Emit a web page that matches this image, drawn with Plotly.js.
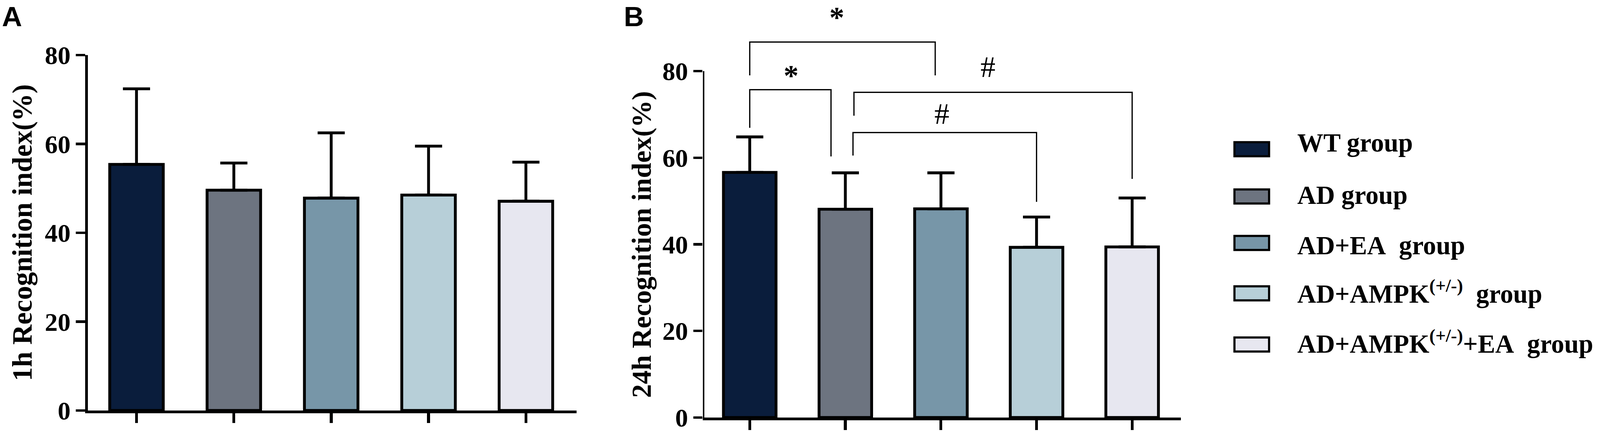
<!DOCTYPE html>
<html>
<head>
<meta charset="utf-8">
<script src="https://cdn.plot.ly/plotly-3.0.1.min.js"></script>
<style>
  html, body { margin: 0; padding: 0; background: #fff; overflow: hidden; }
</style>
</head>
<body>
<div id="chart"></div>
<script>
// groups and their legend labels
const groups = ['WT group', 'AD group', 'AD+EA group', 'AD+AMPK(+/-) group', 'AD+AMPK(+/-)+EA group'];
const groupLabels = [
    'WT group',
    'AD group',
    'AD+EA\u00a0\u00a0group',
    'AD+AMPK<sup>(+/-)</sup>\u00a0\u00a0group',
    'AD+AMPK<sup>(+/-)</sup>+EA\u00a0\u00a0group'
];
const barColors = ['#0a1d3c', '#6d7480', '#7796a8', '#b7cfd8', '#e7e7f0'];

// A: 1h recognition index, B: 24h recognition index (mean, SD)
const mean1h = [55.4, 49.6, 47.8, 48.5, 47.1];
const sd1h = [17.0, 6.1, 14.7, 11.0, 8.8];
const mean24h = [56.6, 48.1, 48.2, 39.3, 39.4];
const sd24h = [8.2, 8.4, 8.3, 7.0, 11.3];
const yTicks = [0, 20, 40, 60, 80];

// significance brackets in panel B
const sigMark = ['*', '*', '#', '#'];
const sigFrom = [0, 0, 1.09, 1.08];
const sigTo = [1.94, 0.85, 4.0, 3.0];
const sigTop = [86.7, 75.7, 75.1, 65.8];
const sigFromEnd = [79.0, 66.9, 69.7, 60.5];
const sigToEnd = [79.0, 60.3, 55.1, 49.8];
const sigMarkX = [0.91, 0.43, 2.49, 2.01];
const sigMarkY = [92.6, 79.0, 80.9, 70.1];

// reference frame is 4482 x 1106; scale to whatever the viewport really is
const RW = 4482, RH = 1106;
const W = window.innerWidth || RW;
const H = window.innerHeight || RH;
const s = W / RW;
const px = v => v / RW;
const py = v => 1 - v / RH;
const serif = 'Liberation Serif, Times New Roman, serif';
const sans = 'Liberation Sans, Arial, sans-serif';
const idx = groups.map((_, i) => i);

function barTrace(means, sds, xa, ya) {
    return {
        type: 'bar',
        x: idx,
        y: means,
        xaxis: xa,
        yaxis: ya,
        width: 0.55,
        marker: { color: barColors, line: { color: '#000', width: 8 * s } },
        error_y: {
            type: 'data', symmetric: false,
            array: sds, arrayminus: sds.map(() => 0),
            color: '#000', thickness: 8 * s, width: 38 * s
        },
        hoverinfo: 'skip',
        showlegend: false
    };
}

const xBase = {
    showgrid: false, zeroline: false, showline: true, linecolor: '#000', linewidth: 8 * s,
    ticks: 'outside', ticklen: 27 * s, tickwidth: 8 * s, tickcolor: '#000',
    tickmode: 'array', tickvals: idx, showticklabels: false, fixedrange: true
};
const yBase = {
    showgrid: false, zeroline: false, linecolor: '#000', linewidth: 8 * s,
    ticks: 'outside', ticklen: 26 * s, tickwidth: 7 * s, tickcolor: '#000',
    tickmode: 'array', tickvals: yTicks, ticklabeloverflow: 'allow',
    tickfont: { family: serif, size: 72 * s, color: '#000', weight: 'bold' },
    fixedrange: true
};

const shapes = [];
// panel B y axis line only up to 80
shapes.push({
    type: 'line', xref: 'x2', yref: 'y2', x0: -0.49, x1: -0.49, y0: 0, y1: 80,
    line: { color: '#000', width: 8 * s }
});
sigMark.forEach((m, i) => {
    shapes.push({
        type: 'path', xref: 'x2', yref: 'y2',
        path: `M ${sigFrom[i]},${sigFromEnd[i]} L ${sigFrom[i]},${sigTop[i]} L ${sigTo[i]},${sigTop[i]} L ${sigTo[i]},${sigToEnd[i]}`,
        line: { color: '#000', width: 3.5 * s }
    });
});

const annotations = [];
annotations.push({ text: 'A', xref: 'paper', yref: 'paper', x: px(3), y: 1, xanchor: 'left', yanchor: 'top',
    showarrow: false, font: { family: sans, size: 78 * s, color: '#000', weight: 'bold' } });
annotations.push({ text: 'B', xref: 'paper', yref: 'paper', x: px(1745), y: 1, xanchor: 'left', yanchor: 'top',
    showarrow: false, font: { family: sans, size: 78 * s, color: '#000', weight: 'bold' } });
annotations.push({ text: '1h Recognition index(%)', xref: 'paper', yref: 'y', x: px(62), y: 40, textangle: -90,
    xanchor: 'center', yanchor: 'middle', showarrow: false,
    font: { family: serif, size: 78 * s, color: '#000', weight: 'bold' } });
annotations.push({ text: '24h Recognition index(%)', xref: 'paper', yref: 'y2', x: px(1797), y: 40, textangle: -90,
    xanchor: 'center', yanchor: 'middle', showarrow: false,
    font: { family: serif, size: 77 * s, color: '#000', weight: 'bold' } });
sigMark.forEach((m, i) => {
    const top = i === 0;
    annotations.push({ text: m, xref: 'x2', yref: top ? 'paper' : 'y2', x: sigMarkX[i], y: top ? 1 : sigMarkY[i],
        xanchor: 'center', yanchor: top ? 'top' : 'middle', showarrow: false,
        font: { family: serif, size: 84 * s, color: '#000', weight: m === '*' ? 'bold' : 'normal' } });
});

// legend drawn by hand
const legendBoxY = [382, 503, 622, 751, 882];
const legendTextY = [365, 499, 628, 747, 875];
groupLabels.forEach((lab, i) => {
    shapes.push({
        type: 'rect', xref: 'paper', yref: 'paper',
        x0: px(3458), x1: px(3555), y0: py(legendBoxY[i] - 18), y1: py(legendBoxY[i] + 18),
        fillcolor: barColors[i], line: { color: '#000', width: 6 * s }
    });
    annotations.push({ text: lab, xref: 'paper', yref: 'paper', x: px(3632), y: py(legendTextY[i]),
        xanchor: 'left', yanchor: 'middle', showarrow: false,
        font: { family: serif, size: 73 * s, color: '#000', weight: 'bold' } });
});

const layout = {
    width: W, height: H,
    margin: { l: 0, r: 0, t: 0, b: 0 },
    paper_bgcolor: '#fff', plot_bgcolor: 'rgba(0,0,0,0)',
    showlegend: false, bargap: 0,
    xaxis: Object.assign({}, xBase, { domain: [px(246), px(1615)], range: [-0.5, 4.52], anchor: 'y' }),
    yaxis: Object.assign({}, yBase, { domain: [py(1051), py(141)], range: [0, 80], showline: true, anchor: 'x' }),
    xaxis2: Object.assign({}, xBase, { domain: [px(1969), px(3308)], range: [-0.49, 4.51], anchor: 'y2' }),
    yaxis2: Object.assign({}, yBase, { domain: [py(1069), 1], range: [0, 96.41], showline: false, anchor: 'x2' }),
    shapes: shapes,
    annotations: annotations
};

Plotly.newPlot('chart', [barTrace(mean1h, sd1h, 'x', 'y'), barTrace(mean24h, sd24h, 'x2', 'y2')], layout,
    { staticPlot: true, displayModeBar: false });
</script>
</body>
</html>
